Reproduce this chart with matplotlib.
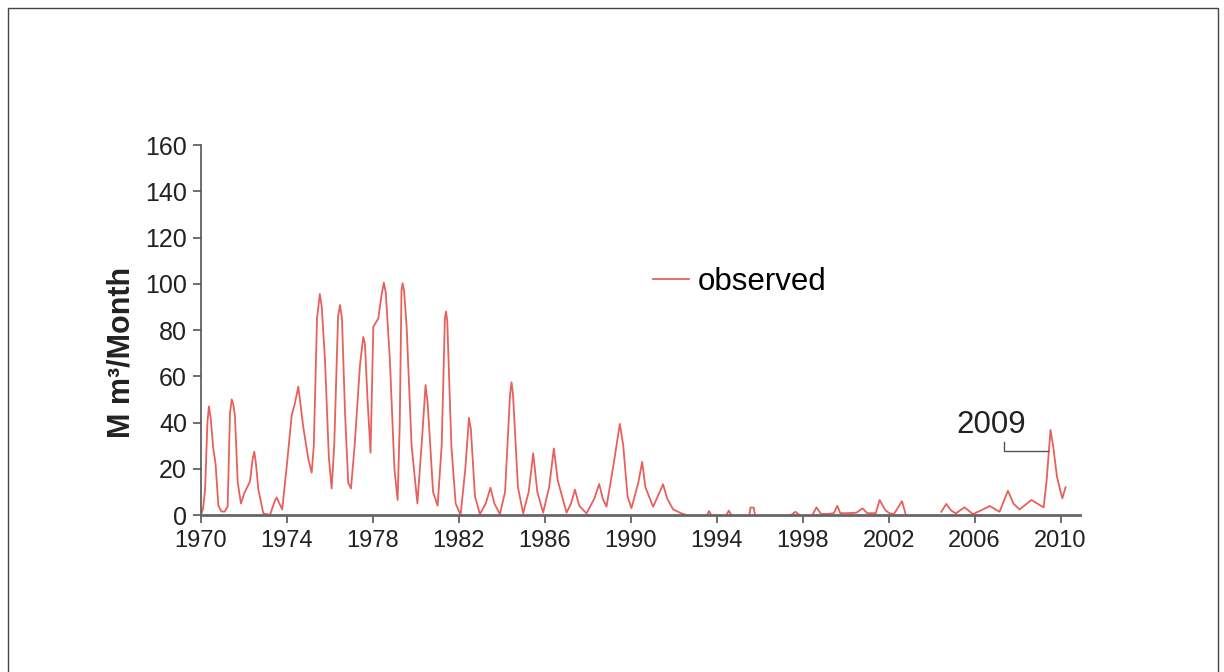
import numpy as np
import matplotlib.pyplot as plt
from matplotlib.patches import Rectangle

plt.rcParams['font.family'] = ['Liberation Sans', 'DejaVu Sans']

nan = np.nan

# observed monthly flow (M m3/month); nan = no line drawn
years = [
    1970.00, 1970.10, 1970.19, 1970.30, 1970.37, 1970.45, 1970.57, 1970.68, 1970.81, 1970.95,
    1971.10, 1971.24, 1971.35, 1971.43, 1971.50, 1971.58, 1971.71, 1971.86, 1972.02, 1972.28,
    1972.40, 1972.48, 1972.56, 1972.67, 1972.90, 1973.21, 1973.45, 1973.52, 1973.60, 1973.78,
    1974.00, 1974.22, 1974.37, 1974.53, 1974.76, 1975.00, 1975.15, 1975.25, 1975.40, 1975.53,
    1975.62, 1975.77, 1975.95, 1976.08, 1976.20, 1976.38, 1976.47, 1976.56, 1976.70, 1976.85,
    1976.98, 1977.15, 1977.40, 1977.55, 1977.63, 1977.75, 1977.89, 1978.02, 1978.25, 1978.40,
    1978.51, 1978.60, 1978.79, 1979.00, 1979.15, 1979.25, 1979.33, 1979.38, 1979.45, 1979.57,
    1979.80, 1980.07, 1980.30, 1980.45, 1980.55, 1980.80, 1981.01, 1981.20, 1981.35, 1981.40,
    1981.46, 1981.65, 1981.85, 1982.08, 1982.30, 1982.47, 1982.56, 1982.75, 1982.98, 1983.25,
    1983.47, 1983.65, 1983.91, 1984.15, 1984.38, 1984.45, 1984.52, 1984.75, 1984.99, 1985.25,
    1985.46, 1985.65, 1985.92, 1986.20, 1986.42, 1986.60, 1987.01, 1987.22, 1987.40, 1987.60,
    1987.94, 1988.30, 1988.53, 1988.70, 1988.87, 1989.20, 1989.49, 1989.65, 1989.85, 1990.03,
    1990.35, 1990.53, 1990.68, 1991.04, 1991.30, 1991.50, 1991.70, 1991.97, 1992.36, 1992.50,
    1993.00, 1993.55, 1993.64, 1993.75, 1994.00, 1994.45, 1994.56, 1994.68, 1995.00, 1995.52,
    1995.57, 1995.72, 1995.78, 1996.50, 1997.45, 1997.66, 1997.85, 1998.10, 1998.45, 1998.64,
    1998.85, 1999.20, 1999.45, 1999.61, 1999.75, 2000.10, 2000.50, 2000.78, 2001.00, 2001.40,
    2001.58, 2001.85, 2002.05, 2002.25, 2002.62, 2002.80, 2003.50, 2004.45, 2004.68, 2004.90,
    2005.12, 2005.53, 2005.92, 2006.30, 2006.70, 2007.16, 2007.55, 2007.80, 2008.09, 2008.64,
    2009.21, 2009.35, 2009.53, 2009.65, 2009.83, 2010.08, 2010.23,
]
flow = [
    0, 3, 11, 40, 47, 42, 29, 22, 4, 1.5,
    1.5, 3.6, 44, 50, 48, 43, 14, 5, 9.5, 14.5,
    24, 27.4, 22, 11, 0.7, 0, 6.5, 7.6, 6, 2.4,
    22, 43, 48.3, 55.5, 38, 24, 18.3, 30, 85, 95.6,
    90, 67, 25, 11.5, 30, 86, 90.8, 85, 45, 14,
    11.5, 30, 65, 77, 74, 50, 27, 81.4, 85, 95,
    100.5, 96, 67, 20, 6.5, 40, 97, 100.2, 97, 81.4,
    30, 5, 35, 56.2, 48, 10, 4, 30, 85, 88,
    84, 30, 5, 0, 20, 42, 37, 8, 0.4, 5,
    11.8, 5, 0.4, 10, 52, 57.4, 52, 12, 0.7, 10,
    26.7, 10, 1, 12, 28.8, 15, 1, 5, 11, 4,
    0.7, 7, 13.4, 7, 3.6, 22, 39.4, 30, 8, 2.9,
    14, 23, 12, 3.6, 9, 13.3, 7, 2.4, 0.7, 0.3,
    nan, 0, 1.7, 0, nan, 0, 1.9, 0, nan, 0,
    3.2, 3.2, 0, nan, 0, 1.4, 0, nan, 0, 3.3,
    0.5, 0.5, 0.8, 4, 0.8, 0.8, 1, 2.9, 0.8, 0.8,
    6.5, 2, 0.7, 0.5, 6, 0, nan, 1.4, 4.8, 2,
    0.7, 3.3, 0.4, 2, 3.9, 1.4, 10.5, 5, 2.4, 6.5,
    3.3, 15, 36.8, 30, 16.6, 7.2, 12,
]
xticks = list(range(1970, 2011, 4))
yticks = list(range(0, 161, 20))

red = '#e8605c'
grey = '#555555'

fig = plt.figure(figsize=(12.24, 6.72), dpi=100)
ax = fig.add_axes([0.1642, 0.2336, 0.7181, 0.5506])

ax.plot(years, flow, color=red, lw=1.3, label='observed')

ax.set_xlim(1970, 2010.9)
ax.set_ylim(0, 160)
ax.set_xticks(xticks)
ax.set_yticks(yticks)
ax.tick_params(axis='both', color=grey, length=6, width=1.2, labelcolor='#222222')
ax.tick_params(axis='x', pad=5, labelsize=17)
ax.tick_params(axis='y', pad=4, labelsize=18)

for s in ['top', 'right']:
    ax.spines[s].set_visible(False)
ax.spines['left'].set_color(grey)
ax.spines['left'].set_linewidth(1.2)
ax.spines['bottom'].set_color('#666666')
ax.spines['bottom'].set_linewidth(2)

fig.text(122 / 1224, 1 - 352 / 672, 'M m³/Month', rotation=90, ha='center',
         va='center', fontsize=22, fontweight='bold', color='#222222')

ax.legend(loc='center left', bbox_to_anchor=(0.514, 0.63), frameon=False,
          fontsize=22.5, handlelength=1.15, handletextpad=0.3, borderpad=0,
          borderaxespad=0)

# 2009 label and its leader
ax.text(2006.75, 38.9, '2009', fontsize=22.5, ha='center', va='center', color='#222222')
ax.plot([2007.35, 2007.35, 2009.41], [31.7, 27.8, 27.8], color=grey, lw=1)

# thin frame round the figure
fig.patches.append(Rectangle((8 / 1224, -0.05), 1210 / 1224, 1 - 8 / 672 + 0.05,
                             transform=fig.transFigure, fill=False,
                             edgecolor='#444444', lw=1))

fig.savefig('out.png', dpi=100)
